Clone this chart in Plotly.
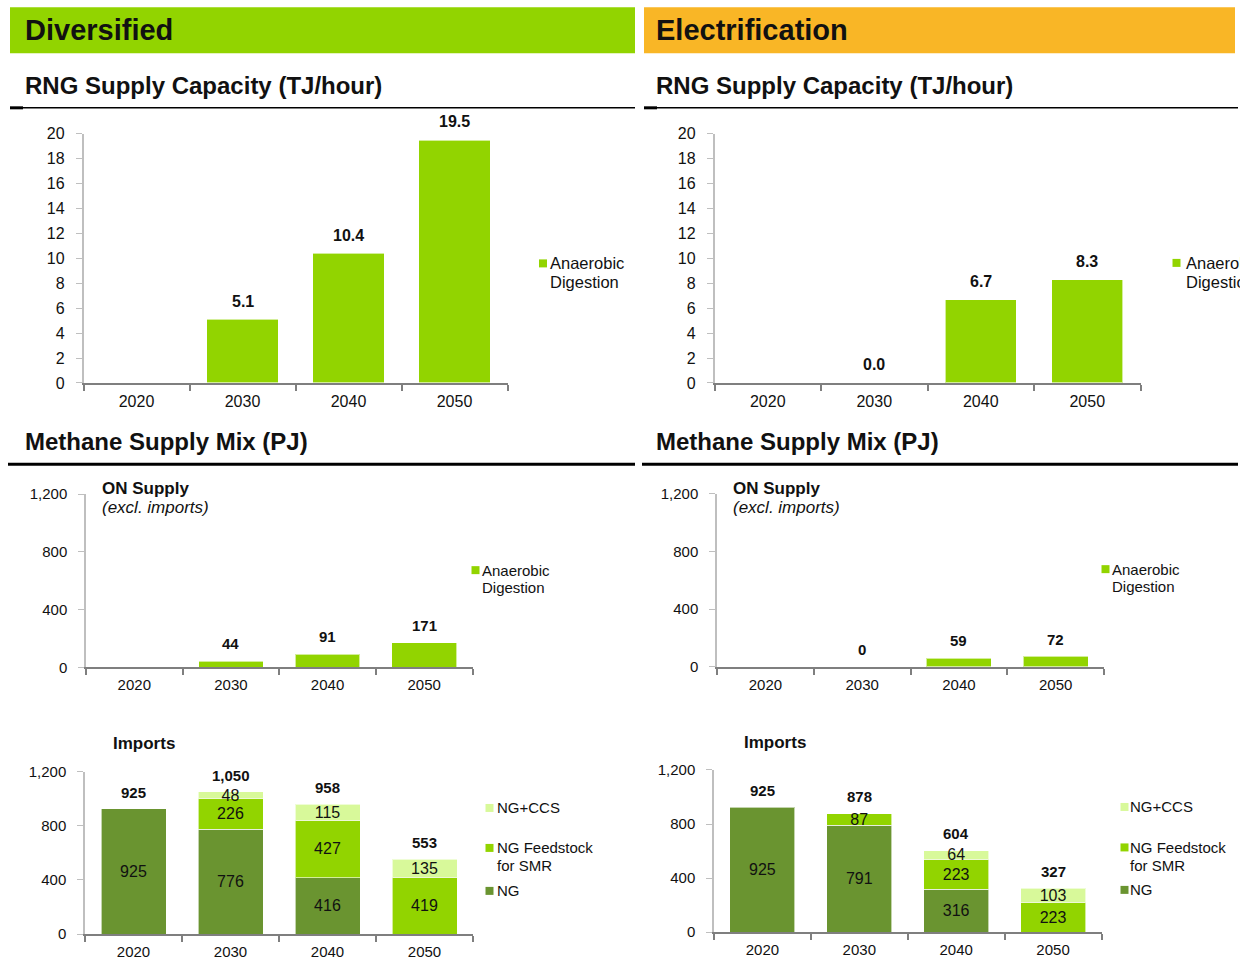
import plotly.graph_objects as go

W, H = 1240, 960
FONT = 'Arial, "Liberation Sans", Helvetica, sans-serif'

# ---------------- data ----------------
years = ["2020", "2030", "2040", "2050"]

div_rng_capacity = [None, 5.1, 10.4, 19.5]      # TJ/hour
elec_rng_capacity = [None, 0.0, 6.7, 8.3]

div_on_supply = [None, 44, 91, 171]             # PJ
elec_on_supply = [None, 0, 59, 72]

div_ng = [925, 776, 416, None]
div_feed = [None, 226, 427, 419]
div_ccs = [None, 48, 115, 135]
div_total = [925, 1050, 958, 553]

elec_ng = [925, 791, 316, None]
elec_feed = [None, 87, 223, 223]
elec_ccs = [None, None, 64, 103]
elec_total = [925, 878, 604, 327]

# ---------------- style ----------------
LIME = "#92D400"
DARK = "#6A9430"
PALE = "#D8F99A"
ORANGE = "#F9B626"
TXT = "#111111"

# vertical calibration of the photographed page
YS, YO = 0.981, 8.4


def px(x):
    return x / W


def py(y):
    return 1 - ((y - YO) / YS) / H


# panel pixel boxes: (x_left, x_right), (y_top, y_bottom)
panels = {
    1: dict(x=(83.5, 507.5), y=(133.3, 382.7), rng=[0, 20], dtick=2, fmt="d", tf=16),
    2: dict(x=(714.5, 1140.5), y=(133.3, 382.7), rng=[0, 20], dtick=2, fmt="d", tf=16),
    3: dict(x=(86, 472.5), y=(494, 667.3), rng=[0, 1200], dtick=400, fmt=",d", tf=15),
    4: dict(x=(717, 1104), y=(493.3, 666.7), rng=[0, 1200], dtick=400, fmt=",d", tf=15),
    5: dict(x=(85, 473), y=(771.7, 934.3), rng=[0, 1200], dtick=400, fmt=",d", tf=15),
    6: dict(x=(714, 1101.5), y=(770, 932.3), rng=[0, 1200], dtick=400, fmt=",d", tf=15),
}


def ax_name(kind, i):
    return kind if i == 1 else f"{kind}{i}"


fig = go.Figure()
layout_axes = {}
for i, p in panels.items():
    layout_axes[ax_name("xaxis", i)] = dict(
        domain=[px(p["x"][0]), px(p["x"][1])],
        anchor=ax_name("y", i),
        type="category",
        categoryorder="array",
        categoryarray=years,
        range=[-0.5, 3.5],
        showline=True,
        linecolor="#7F7F7F",
        linewidth=2,
        ticks="outside",
        tickson="boundaries",
        ticklen=6,
        tickwidth=1.5,
        tickcolor="#7F7F7F",
        showgrid=False,
        zeroline=False,
        ticklabelstandoff=3,
        tickfont=dict(family=FONT, size=p["tf"], color=TXT),
        fixedrange=True,
    )
    layout_axes[ax_name("yaxis", i)] = dict(
        domain=[py(p["y"][1]), py(p["y"][0])],
        anchor=ax_name("x", i),
        range=p["rng"],
        dtick=p["dtick"],
        tick0=0,
        tickformat=p["fmt"],
        showline=True,
        linecolor="#BFBFBF",
        linewidth=1.5,
        ticks="outside",
        ticklen=6,
        tickwidth=1,
        tickcolor="#BFBFBF",
        showgrid=False,
        zeroline=False,
        ticklabelstandoff=8,
        tickfont=dict(family=FONT, size=p["tf"], color=TXT),
        fixedrange=True,
    )

BAR_LINE = dict(color="rgba(255,255,255,0.6)", width=1)


def simple_bar(vals, i):
    fig.add_trace(go.Bar(
        x=years, y=vals, xaxis=ax_name("x", i), yaxis=ax_name("y", i),
        marker=dict(color=LIME, line=BAR_LINE), width=0.67,
        showlegend=False, hoverinfo="skip",
    ))


def stack_bar(vals, i, color):
    fig.add_trace(go.Bar(
        x=years, y=vals, xaxis=ax_name("x", i), yaxis=ax_name("y", i),
        marker=dict(color=color, line=BAR_LINE), width=0.67,
        text=["" if v is None else f"{v:,.0f}" for v in vals],
        textposition="inside", insidetextanchor="middle", textangle=0,
        constraintext="none",
        textfont=dict(family=FONT, size=16, color="#111111"),
        showlegend=False, hoverinfo="skip",
    ))


simple_bar(div_rng_capacity, 1)
simple_bar(elec_rng_capacity, 2)
simple_bar(div_on_supply, 3)
simple_bar(elec_on_supply, 4)
for vals, col in [(div_ng, DARK), (div_feed, LIME), (div_ccs, PALE)]:
    stack_bar(vals, 5, col)
for vals, col in [(elec_ng, DARK), (elec_feed, LIME), (elec_ccs, PALE)]:
    stack_bar(vals, 6, col)

annotations = []
shapes = []


def value_labels(vals, i, fmt, size, shift):
    # category axis: annotation x given as the category's index position
    for k, v in enumerate(vals):
        if v is None:
            continue
        annotations.append(dict(
            x=k, y=v, xref=ax_name("x", i), yref=ax_name("y", i),
            yshift=shift / YS,
            text=f"<b>{fmt.format(v)}</b>", showarrow=False,
            font=dict(family=FONT, size=size, color=TXT),
        ))


value_labels(div_rng_capacity, 1, "{:.1f}", 16, 18)
value_labels(elec_rng_capacity, 2, "{:.1f}", 16, 18)
value_labels(div_on_supply, 3, "{:,.0f}", 15, 17)
value_labels(elec_on_supply, 4, "{:,.0f}", 15, 17)
value_labels(div_total, 5, "{:,.0f}", 15, 16.5)
value_labels(elec_total, 6, "{:,.0f}", 15, 16.5)


def text_at(x, y, text, size, color=TXT, anchor="left"):
    annotations.append(dict(
        x=px(x), y=py(y), xref="paper", yref="paper",
        xanchor=anchor, yanchor="middle", text=text, showarrow=False,
        font=dict(family=FONT, size=size, color=color),
    ))


def rect(x0, y0, x1, y1, color):
    shapes.append(dict(type="rect", xref="paper", yref="paper",
                       x0=px(x0), x1=px(x1), y0=py(y1), y1=py(y0),
                       fillcolor=color, line=dict(width=0), layer="below"))


def hline(x0, x1, y, width, color="#000000"):
    shapes.append(dict(type="line", xref="paper", yref="paper",
                       x0=px(x0), x1=px(x1), y0=py(y), y1=py(y),
                       line=dict(color=color, width=width)))


# header bands
rect(10, 6.7, 635, 52.7, LIME)
rect(644, 6.7, 1235, 52.7, ORANGE)
text_at(23, 29.5, "<b>Diversified</b>", 29)
text_at(654, 29.5, "<b>Electrification</b>", 29)

# section titles
for x0, x1 in [(10, 635), (644, 1238)]:
    tx = x0 + 13 if x0 == 10 else 654
    text_at(tx, 85, "<b>RNG Supply Capacity (TJ/hour)</b>", 24)
    hline(x0, x1, 107.3, 1.5)
    hline(x0, x0 + 13, 107.3, 3)
    text_at(tx, 441.5, "<b>Methane Supply Mix (PJ)</b>", 24)
    hline(x0 - 2, x1, 464, 3)

# chart sub-titles
text_at(100, 488, "<b>ON Supply</b>", 17)
text_at(100, 507.5, "<i>(excl. imports)</i>", 17)
text_at(731, 488, "<b>ON Supply</b>", 17)
text_at(731, 507.5, "<i>(excl. imports)</i>", 17)
text_at(111, 743, "<b>Imports</b>", 17)
text_at(742, 742.5, "<b>Imports</b>", 17)


def legend_item(mx, my, color, lines, size, tx, dy):
    rect(mx, my - 4, mx + 8, my + 4, color)
    for k, line in enumerate(lines):
        text_at(tx, my + k * dy, line, size)


legend_item(539, 263, LIME, ["Anaerobic", "Digestion"], 16.5, 548, 19)
legend_item(1172.5, 262.5, LIME, ["Anaerobic", "Digestion"], 16.5, 1184, 19)
legend_item(471.5, 570, LIME, ["Anaerobic", "Digestion"], 15, 480, 17.5)
legend_item(1101.5, 569, LIME, ["Anaerobic", "Digestion"], 15, 1110, 17.5)

for (mx, tx, ys) in [(485.5, 494.5, (808, 848, 891)), (1120.5, 1128, (807, 847.5, 890))]:
    legend_item(mx, ys[0], PALE, ["NG+CCS"], 15, tx, 18)
    legend_item(mx, ys[1], LIME, ["NG Feedstock", "for SMR"], 15, tx, 18)
    legend_item(mx, ys[2], DARK, ["NG"], 15, tx, 18)

fig.update_layout(
    width=W, height=H,
    margin=dict(l=0, r=0, t=0, b=0),
    paper_bgcolor="white", plot_bgcolor="white",
    barmode="stack",
    showlegend=False,
    hovermode=False,
    uniformtext=dict(minsize=16, mode="show"),
    font=dict(family=FONT, color=TXT),
    annotations=annotations,
    shapes=shapes,
    **layout_axes,
)

fig.write_html("out.html", post_script="document.body.style.margin='0';",
               config={"displayModeBar": False})
